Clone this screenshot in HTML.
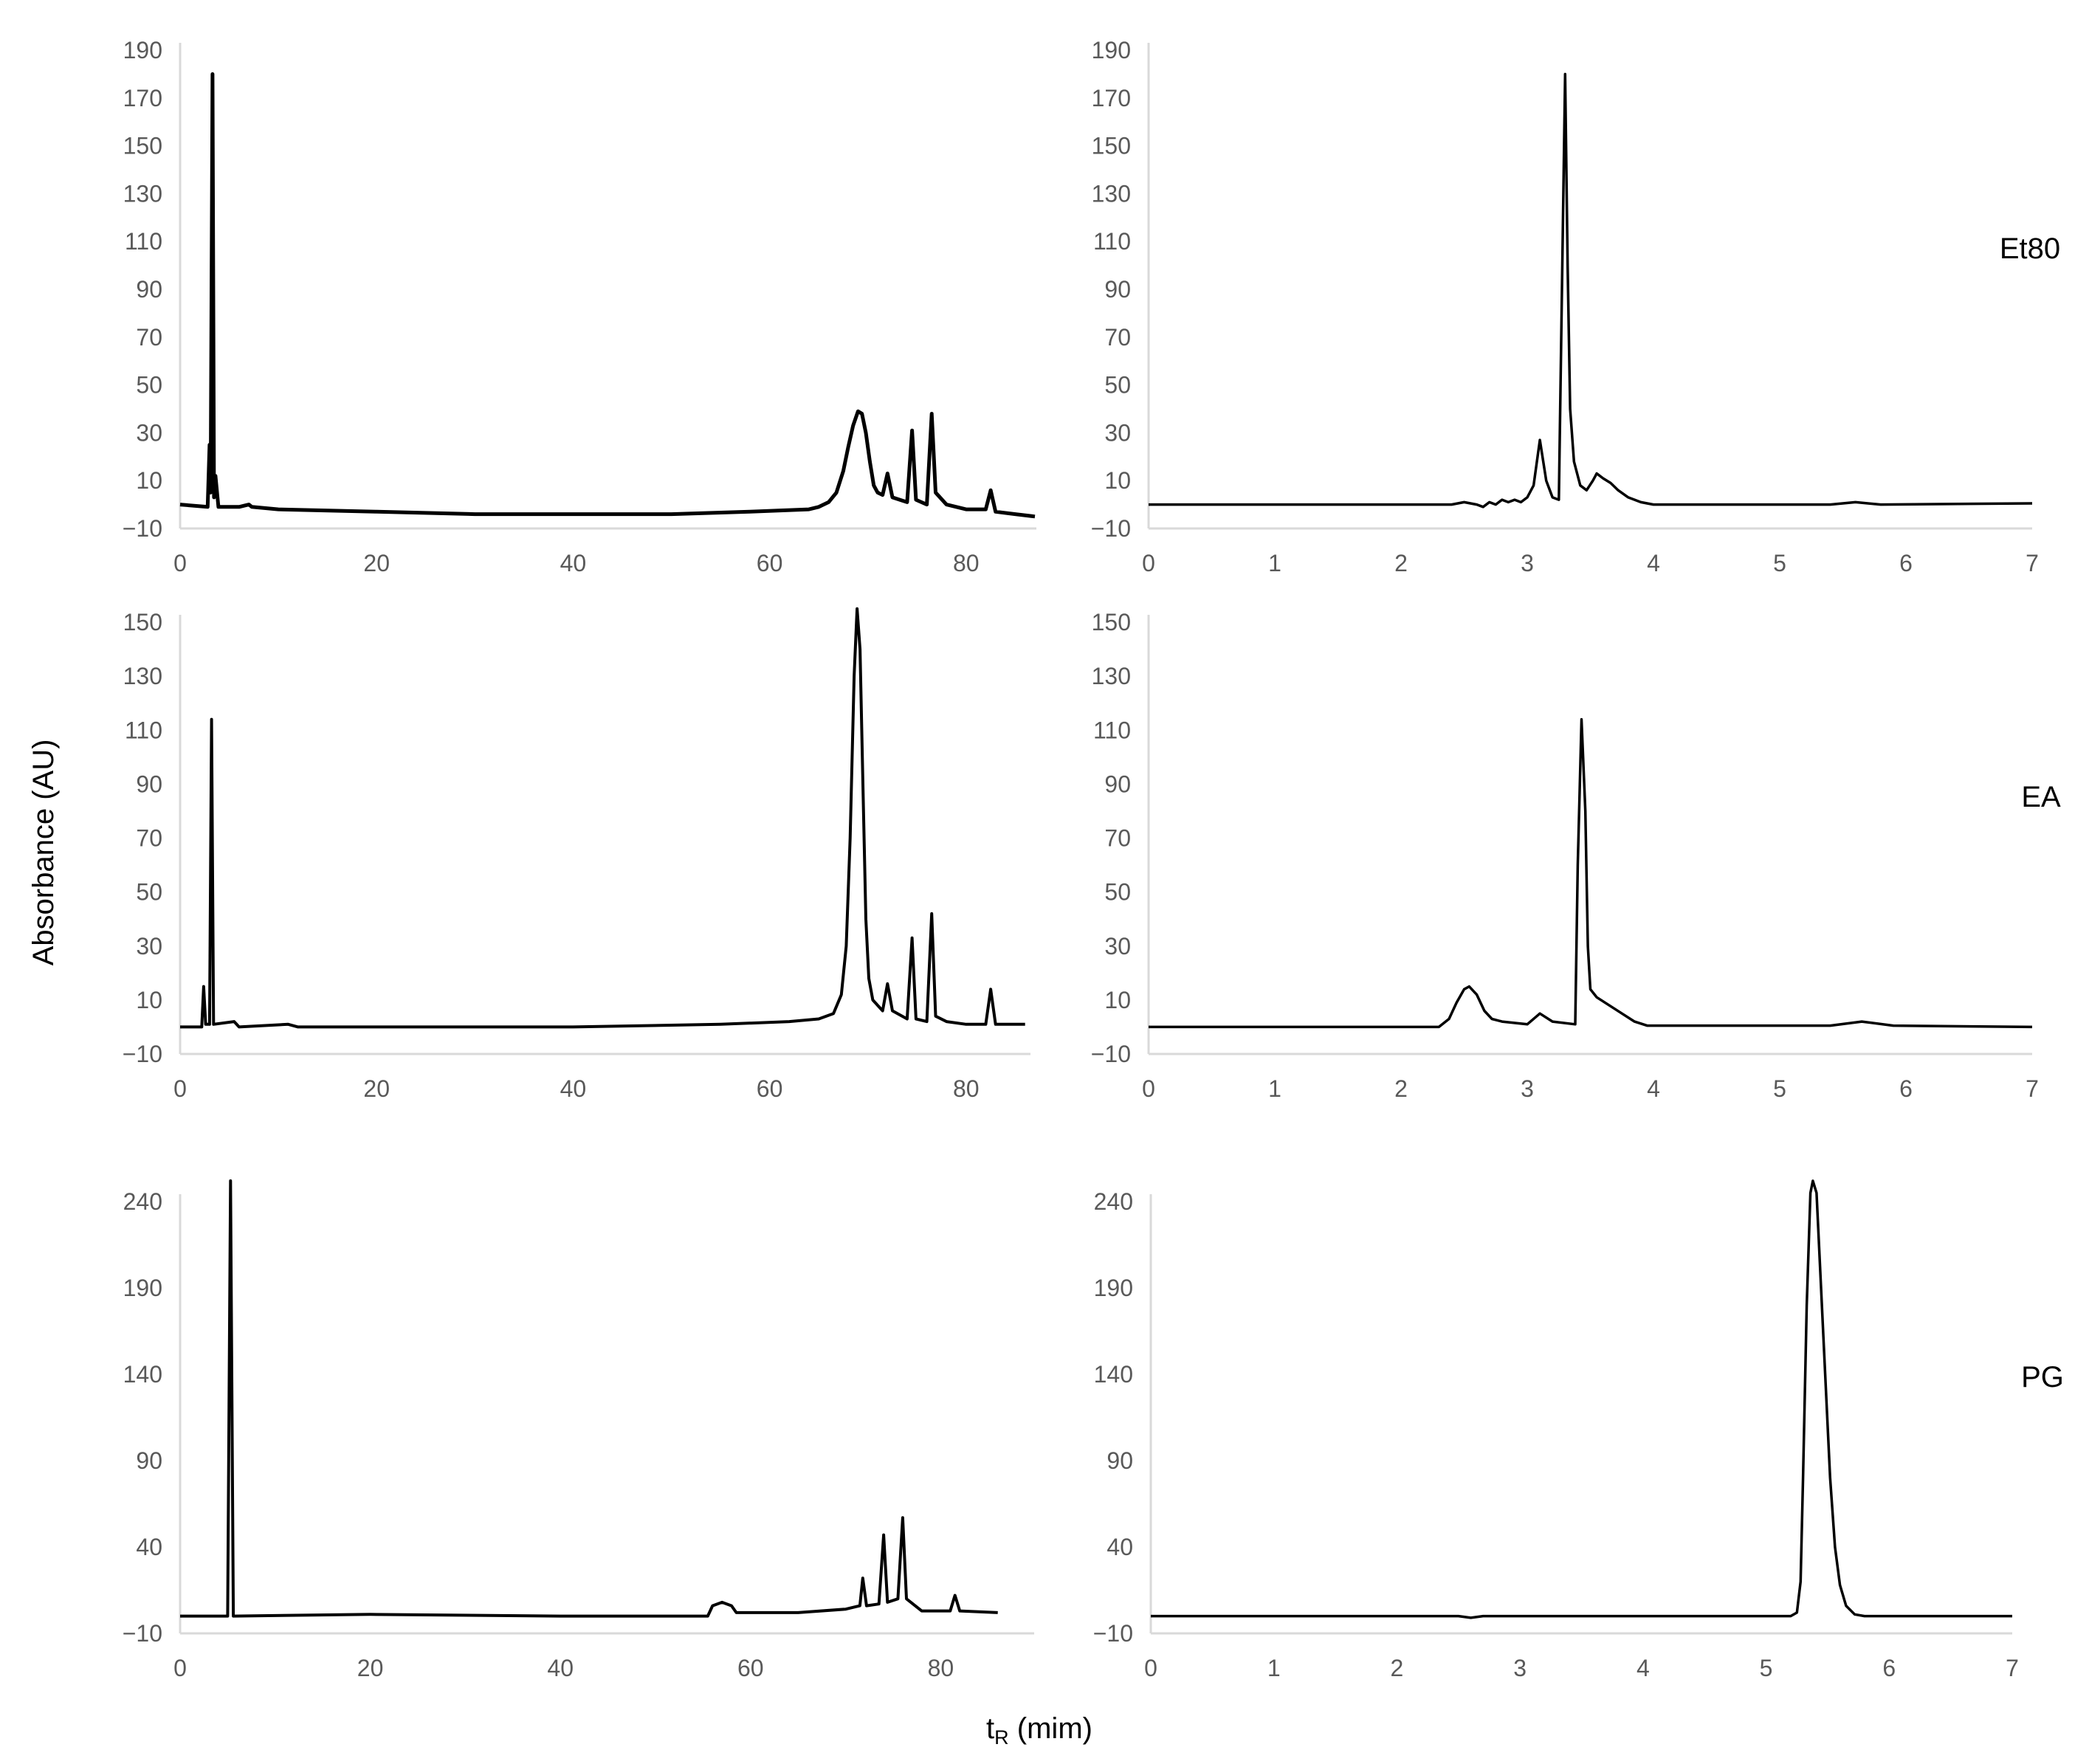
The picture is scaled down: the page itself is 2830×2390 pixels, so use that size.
<!DOCTYPE html>
<html><head><meta charset="utf-8">
<style>
html,body{margin:0;padding:0;background:#fff;}
svg{display:block;}
text{font-family:"Liberation Sans Narrow","Liberation Sans",sans-serif;}
.tick{fill:#595959;font-size:32px;}
.lab{fill:#000;font-size:40px;}
</style></head>
<body>
<svg id="chart" width="2830" height="2390" viewBox="0 0 2830 2390" xmlns="http://www.w3.org/2000/svg">
<text class="lab" transform="translate(72,1155) rotate(-90)" text-anchor="middle">Absorbance (AU)</text>
<text class="lab" x="1408" y="2355" text-anchor="middle">t<tspan font-size="27" dy="8">R</tspan><tspan dy="-8"> (mim)</tspan></text>
<text class="lab" x="2750" y="350" text-anchor="middle">Et80</text>
<text class="lab" x="2765" y="1093" text-anchor="middle">EA</text>
<text class="lab" x="2767" y="1879" text-anchor="middle">PG</text>
</svg>
<script>
// ---- data (t in min, absorbance in AU) ----
const et80Full = [[0,0],[2.8,-1],[3.0,25],[3.1,5],[3.3,180],[3.45,3],[3.6,12],[3.9,-1],[6,-1],[7,0],[7.3,-1],[10,-2],[20,-3],[30,-4],[50,-4],[58,-3],[64,-2],[65,-1],[66,1],[66.8,5],[67.5,14],[68,24],[68.5,33],[69,39],[69.4,38],[69.8,30],[70.2,18],[70.6,8],[71,5],[71.5,4],[72,13],[72.5,3],[74,1],[74.5,31],[74.9,2],[76,0],[76.5,38],[76.9,5],[78,0],[80,-2],[82,-2],[82.5,6],[83,-3],[85,-4],[87,-5]];
const et80Zoom = [[0,0],[2.4,0],[2.5,1],[2.6,0],[2.65,-1],[2.7,1],[2.75,0],[2.8,2],[2.85,1],[2.9,2],[2.95,1],[3.0,3],[3.05,8],[3.1,27],[3.15,10],[3.2,3],[3.25,2],[3.3,180],[3.32,100],[3.34,40],[3.37,18],[3.42,8],[3.47,6],[3.52,10],[3.55,13],[3.6,11],[3.66,9],[3.72,6],[3.8,3],[3.9,1],[4.0,0],[5.4,0],[5.6,1],[5.8,0],[7,0.5]];
const eaFull = [[0,0],[2.2,0],[2.4,15],[2.6,1],[3.0,1],[3.2,114],[3.4,1],[5.5,2],[6,0],[11,1],[12,0],[20,0],[40,0],[55,1],[62,2],[65,3],[66.5,5],[67.3,12],[67.8,30],[68.2,70],[68.6,130],[68.9,155],[69.2,140],[69.5,90],[69.8,40],[70.1,18],[70.5,10],[71.5,6],[72,16],[72.5,6],[74,3],[74.5,33],[74.9,3],[76,2],[76.5,42],[76.9,4],[78,2],[80,1],[82,1],[82.5,14],[83,1],[86,1]];
const eaZoom = [[0,0],[2.3,0],[2.38,3],[2.44,9],[2.5,14],[2.54,15],[2.6,12],[2.66,6],[2.72,3],[2.8,2],[3.0,1],[3.1,5],[3.2,2],[3.38,1],[3.4,60],[3.43,114],[3.46,80],[3.48,30],[3.5,14],[3.55,11],[3.65,8],[3.75,5],[3.85,2],[3.95,0.5],[5.4,0.5],[5.65,2],[5.9,0.5],[7,0]];
const pgFull = [[0,0],[5.0,0],[5.3,252],[5.6,0],[20,1],[40,0],[55.5,0],[56,6],[57,8],[58,6],[58.5,2],[65,2],[70,4],[71.5,6],[71.8,22],[72.2,6],[73.5,7],[74,47],[74.4,8],[75.5,10],[76,57],[76.4,10],[78,3],[81,3],[81.5,12],[82,3],[86,2]];
const pgZoom = [[0,0],[2.5,0],[2.6,-1],[2.7,0],[5.2,0],[5.25,2],[5.28,20],[5.3,80],[5.33,180],[5.36,245],[5.38,252],[5.41,245],[5.44,200],[5.48,140],[5.52,80],[5.56,40],[5.6,18],[5.65,6],[5.72,1],[5.8,0],[7,0]];
const yTicksA = [-10,10,30,50,70,90,110,130,150,170,190];
const yTicksB = [-10,10,30,50,70,90,110,130,150];
const yTicksC = [-10,40,90,140,190,240];
const xTicksFull = [0,20,40,60,80];
const xTicksZoom = [0,1,2,3,4,5,6,7];

const NS='http://www.w3.org/2000/svg';
const svg=document.getElementById('chart');
function mk(tag,attrs){const e=document.createElementNS(NS,tag);for(const k in attrs)e.setAttribute(k,attrs[k]);svg.appendChild(e);return e;}

const panels=[
 {name:'et80-full',data:et80Full,x0:244,x1:1404,t0:0,tScale:13.31,yMin:-10,yMax:190,yTop:68,yBot:716,yt:yTicksA,xt:xTicksFull,sw:5},
 {name:'et80-zoom',data:et80Zoom,x0:1556,x1:2753,t0:0,tScale:(2753-1556)/7,yMin:-10,yMax:190,yTop:68,yBot:716,yt:yTicksA,xt:xTicksZoom,sw:3.5},
 {name:'ea-full',data:eaFull,x0:244,x1:1396,t0:0,tScale:13.31,yMin:-10,yMax:150,yTop:843,yBot:1428,yt:yTicksB,xt:xTicksFull,sw:4},
 {name:'ea-zoom',data:eaZoom,x0:1556,x1:2753,t0:0,tScale:(2753-1556)/7,yMin:-10,yMax:150,yTop:843,yBot:1428,yt:yTicksB,xt:xTicksZoom,sw:3.5},
 {name:'pg-full',data:pgFull,x0:244,x1:1401,t0:0,tScale:12.88,yMin:-10,yMax:240,yTop:1628,yBot:2213,yt:yTicksC,xt:xTicksFull,sw:4},
 {name:'pg-zoom',data:pgZoom,x0:1559,x1:2726,t0:0,tScale:(2726-1559)/7,yMin:-10,yMax:240,yTop:1628,yBot:2213,yt:yTicksC,xt:xTicksZoom,sw:3.5}
];

panels.forEach(p=>{
  const X=t=>p.x0+(t-p.t0)*p.tScale;
  const Y=v=>p.yBot-(v-p.yMin)/(p.yMax-p.yMin)*(p.yBot-p.yTop);
  const top=Y(p.yMax)-10;
  const ya=mk('line',{x1:p.x0,y1:top,x2:p.x0,y2:p.yBot,stroke:'#d9d9d9','stroke-width':3});
  
  
  const xa=mk('line',{x1:p.x0,y1:p.yBot,x2:p.x1,y2:p.yBot,stroke:'#d9d9d9','stroke-width':3});
  
  
  p.yt.forEach(v=>{
    const t=mk('text',{x:p.x0-24,y:Y(v)+11,'text-anchor':'end',class:'tick'});
    t.textContent=(v<0?'\u2212'+Math.abs(v):String(v));
    
    
  });
  p.xt.forEach(v=>{
    const t=mk('text',{x:X(v),y:p.yBot+58,'text-anchor':'middle',class:'tick'});
    t.textContent=String(v);
    
    
  });
  const d=p.data.map((pt,i)=>(i?'L':'M')+X(pt[0]).toFixed(1)+','+Y(pt[1]).toFixed(1)).join(' ');
  const path=mk('path',{d:d,fill:'none',stroke:'#000','stroke-width':p.sw,'stroke-linejoin':'round'});
  
  
});
</script>
</body></html>
